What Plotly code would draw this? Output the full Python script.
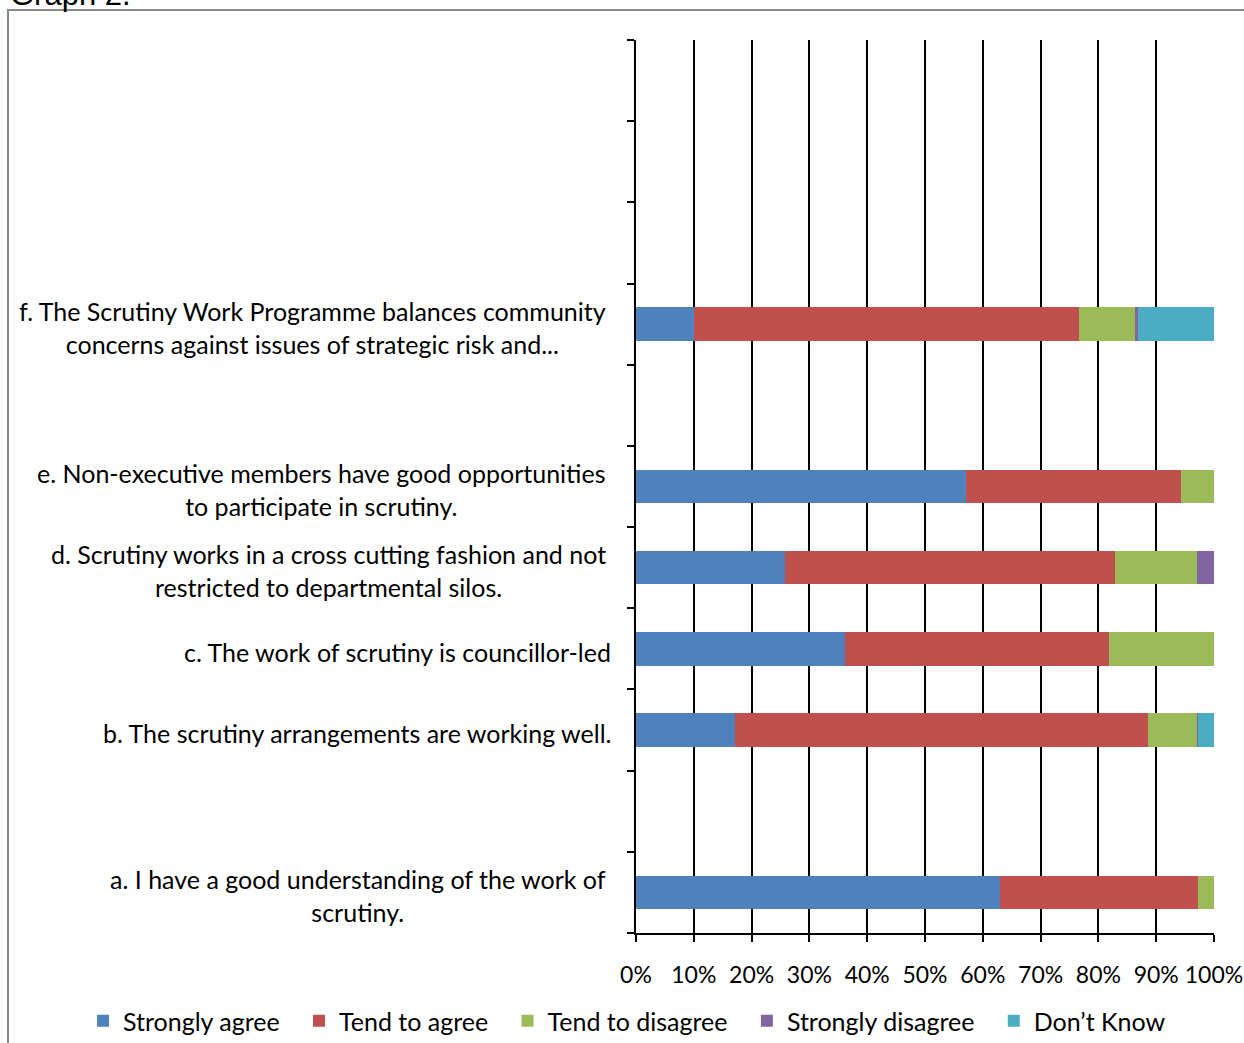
import plotly.graph_objects as go

# Category slots from bottom to top (blank slots are empty categories)
slots = ["a", " ", "b", "c", "d", "e", "  ", "f", "   ", "    ", "     "]
bar_cats = ["a", "b", "c", "d", "e", "f"]
labels = {
    "a": "a. I have a good understanding of the work of<br>scrutiny.",
    "b": "b. The scrutiny arrangements are working well.",
    "c": "c. The work of scrutiny is councillor-led",
    "d": "d. Scrutiny works in a cross cutting fashion and not<br>restricted to departmental silos.",
    "e": "e. Non-executive members have good opportunities<br>to participate in scrutiny.",
    "f": "f. The Scrutiny Work Programme balances community<br>concerns against issues of strategic risk and...",
}

series_names = ["Strongly agree", "Tend to agree", "Tend to disagree", "Strongly disagree", "Don\u2019t Know"]
strongly_agree    = [0.629, 0.171, 0.362, 0.257, 0.571, 0.100]
tend_to_agree     = [0.343, 0.714, 0.457, 0.571, 0.372, 0.666]
tend_to_disagree  = [0.028, 0.086, 0.181, 0.143, 0.057, 0.099]
strongly_disagree = [0.000, 0.002, 0.000, 0.029, 0.000, 0.003]
dont_know         = [0.000, 0.027, 0.000, 0.000, 0.000, 0.132]
values = [strongly_agree, tend_to_agree, tend_to_disagree, strongly_disagree, dont_know]
colors = ["#4F81BD", "#C0504D", "#9BBB59", "#8064A2", "#4BACC6"]
x_ticks = [i / 10 for i in range(11)]

FONT = "Lato"
PAD = "\u00a0\u00a0\u200a"

fig = go.Figure()
for name, vals, col in zip(series_names, values, colors):
    fig.add_trace(go.Bar(
        y=bar_cats, x=vals, name=name + PAD, orientation="h",
        marker=dict(color=col, line=dict(width=0)),
    ))

W, H = 1244, 1043
L, R, T, B = 636, 30, 40, 110
pw, ph = W - L - R, H - T - B

def px2x(px):
    return (px - L) / pw

def py2y(py):
    return (H - B - py) / ph

annotations = []
for c in bar_cats:
    multi = "<br>" in labels[c]
    annotations.append(dict(
        x=px2x(608 if multi else 613), y=c, xref="paper", yref="y", text=labels[c],
        showarrow=False, xanchor="right", yanchor="middle", align="center", yshift=-3,
        font=dict(family=FONT, size=25, color="black"),
    ))
annotations.append(dict(
    x=px2x(8), y=py2y(14), xref="paper", yref="paper", text="Graph 2.",
    showarrow=False, xanchor="left", yanchor="bottom",
    font=dict(family="Liberation Sans", size=31, color="black"),
))

fig.update_layout(
    barmode="stack",
    bargap=0.59,
    width=W, height=H,
    margin=dict(l=L, r=R, t=T, b=B, autoexpand=False),
    paper_bgcolor="white", plot_bgcolor="white",
    font=dict(family=FONT, size=25, color="black"),
    showlegend=True,
    legend=dict(
        orientation="h", x=px2x(83), y=py2y(1021), xanchor="left", yanchor="middle",
        font=dict(family=FONT, size=25), itemwidth=30, traceorder="normal",
        bgcolor="rgba(0,0,0,0)",
    ),
    xaxis=dict(
        range=[0, 1], tickvals=x_ticks, tickformat=".0%",
        showgrid=True, gridcolor="black", gridwidth=2,
        showline=True, linecolor="black", linewidth=2,
        ticks="outside", ticklen=7, tickwidth=2, tickcolor="black",
        ticklabelstandoff=13, zeroline=False,
        tickfont=dict(family=FONT, size=23),
    ),
    yaxis=dict(
        type="category", categoryorder="array", categoryarray=slots,
        range=[-0.5, len(slots) - 0.5],
        showticklabels=False, tickson="boundaries",
        ticks="outside", ticklen=7, tickwidth=2, tickcolor="black",
        showline=True, linecolor="black", linewidth=2, showgrid=False,
    ),
    annotations=annotations,
    shapes=[dict(
        type="rect", xref="paper", yref="paper",
        x0=px2x(8), x1=px2x(1260), y0=py2y(1060), y1=py2y(10),
        line=dict(color="#8a8a8a", width=2), layer="below",
    )],
)

fig.write_html("out.html")
